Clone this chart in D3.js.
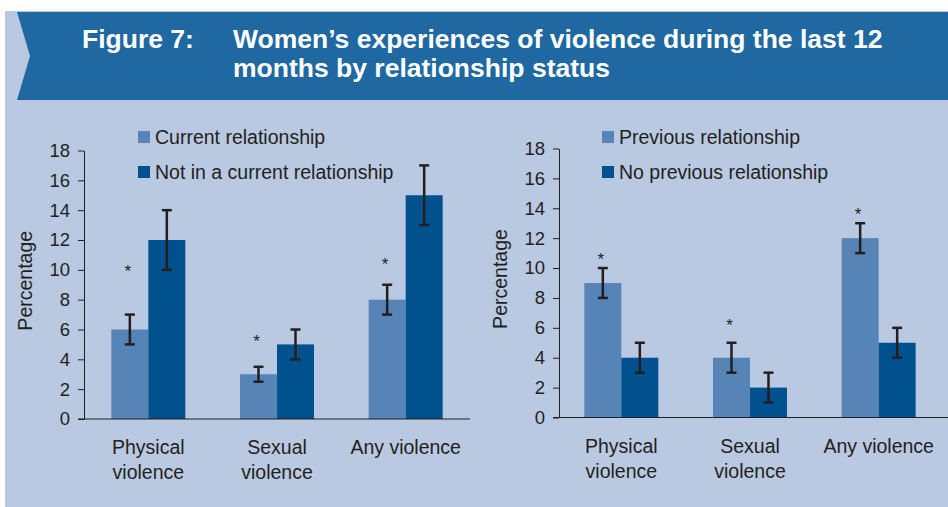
<!DOCTYPE html>
<html>
<head>
<meta charset="utf-8">
<script src="https://cdn.jsdelivr.net/npm/d3@7"></script>
<style>
  body { margin: 0; background: #fff; }
  svg { display: block; font-family: "Liberation Sans", Arial, sans-serif; }
</style>
</head>
<body>
<script>
// ---- data ----
const categories = [["Physical", "violence"], ["Sexual", "violence"], ["Any violence"]];

const leftSeries = ["Current relationship", "Not in a current relationship"];
const currentVals = [6, 3, 8];
const currentLow = [5, 2.5, 7];
const currentHigh = [7, 3.5, 9];
const notCurrentVals = [12, 5, 15];
const notCurrentLow = [10, 4, 13];
const notCurrentHigh = [14, 6, 17];
const leftStars = [10.1, 5.4, 10.6]; // asterisk heights over first series

const rightSeries = ["Previous relationship", "No previous relationship"];
const previousVals = [9, 4, 12];
const previousLow = [8, 3, 11];
const previousHigh = [10, 5, 13];
const noPreviousVals = [4, 2, 5];
const noPreviousLow = [3, 1, 4];
const noPreviousHigh = [5, 3, 6];
const rightStars = [10.8, 6.4, 13.8];

const yTicks = [0, 2, 4, 6, 8, 10, 12, 14, 16, 18];

const width = 948;
const height = 507;
const lightBlue = "#5784b6";
const darkBlue = "#00518e";
const textCol = "#231f20";

let svg = d3.select("body").append("svg")
  .attr("width", width)
  .attr("height", height);

// panel background
svg.append("rect")
  .attr("x", 5).attr("y", 11)
  .attr("width", width - 5).attr("height", height - 11)
  .attr("fill", "#b9c9e1");

// header band with chevron notch
svg.append("path")
  .attr("d", "M17,12 L948,12 L948,100 L17,100 L30,56 Z")
  .attr("fill", "#1f68a1");

let title = svg.append("g")
  .attr("fill", "#fff")
  .attr("font-weight", "bold")
  .attr("font-size", 26.5);
title.append("text").attr("x", 82).attr("y", 48).text("Figure 7:");
title.append("text").attr("x", 233).attr("y", 48).text("Women\u2019s experiences of violence during the last 12");
title.append("text").attr("x", 233).attr("y", 77).text("months by relationship status");

function drawPanel(opts) {
  const y = d3.scaleLinear().domain([0, 18]).range([opts.y0, opts.y18]);
  const x = d3.scaleBand()
    .domain(d3.range(categories.length))
    .range([opts.xStart, opts.xEnd])
    .paddingInner(0.425)
    .paddingOuter(0.2125);
  const xs = d3.scaleBand().domain([0, 1]).range([0, x.bandwidth()]);

  const g = svg.append("g");

  // y axis
  const yAxis = d3.axisLeft(y).tickValues(yTicks).tickSize(6).tickSizeOuter(0).tickPadding(8);
  const ya = g.append("g")
    .attr("transform", `translate(${opts.axisX},0)`)
    .call(yAxis);
  ya.selectAll("text").attr("font-size", 18.5).attr("fill", textCol)
    .attr("font-family", "Liberation Sans, Arial, sans-serif");
  ya.selectAll("line").attr("stroke", textCol);
  ya.select(".domain").attr("stroke", textCol);

  // axis title
  g.append("text")
    .attr("transform", `translate(${opts.labelX},${(opts.y0 + opts.y18) / 2 - 4}) rotate(-90)`)
    .attr("text-anchor", "middle")
    .attr("font-size", 19.5)
    .attr("fill", textCol)
    .text("Percentage");

  // bars
  const series = [opts.a, opts.b];
  const colors = [lightBlue, darkBlue];
  series.forEach((s, si) => {
    g.selectAll(null)
      .data(s.vals)
      .enter()
      .append("rect")
      .attr("x", (d, i) => x(i) + xs(si))
      .attr("y", d => y(d))
      .attr("width", xs.bandwidth())
      .attr("height", d => y(0) - y(d))
      .attr("fill", colors[si]);
  });

  // x axis baseline
  g.append("line")
    .attr("x1", opts.axisX - 6).attr("x2", opts.lineEnd)
    .attr("y1", y(0)).attr("y2", y(0))
    .attr("stroke", textCol).attr("stroke-width", 1);

  // error bars
  series.forEach((s, si) => {
    const eb = g.selectAll(null)
      .data(s.vals.map((v, i) => ({ i, lo: s.lo[i], hi: s.hi[i] })))
      .enter()
      .append("g")
      .attr("stroke", textCol)
      .attr("stroke-width", 2.5);
    const cx = d => x(d.i) + xs(si) + xs.bandwidth() / 2;
    eb.append("line")
      .attr("x1", cx).attr("x2", cx)
      .attr("y1", d => y(d.lo)).attr("y2", d => y(d.hi));
    eb.append("line")
      .attr("x1", d => cx(d) - 5).attr("x2", d => cx(d) + 5)
      .attr("y1", d => y(d.lo)).attr("y2", d => y(d.lo));
    eb.append("line")
      .attr("x1", d => cx(d) - 5).attr("x2", d => cx(d) + 5)
      .attr("y1", d => y(d.hi)).attr("y2", d => y(d.hi));
  });

  // significance asterisks
  g.selectAll(null)
    .data(opts.stars)
    .enter()
    .append("text")
    .attr("x", (d, i) => x(i) + xs(0) + xs.bandwidth() / 2 - 2)
    .attr("y", d => y(d) + 9)
    .attr("text-anchor", "middle")
    .attr("font-size", 17)
    .attr("fill", textCol)
    .text("*");

  // category labels
  categories.forEach((lines, i) => {
    const t = g.append("text")
      .attr("text-anchor", "middle")
      .attr("font-size", 19.5)
      .attr("fill", textCol);
    lines.forEach((ln, li) => {
      t.append("tspan")
        .attr("x", x(i) + x.bandwidth() / 2)
        .attr("y", y(0) + 35 + li * 25)
        .text(ln);
    });
  });

  // legend
  const lg = g.selectAll(null)
    .data(opts.names)
    .enter()
    .append("g")
    .attr("transform", (d, i) => `translate(${opts.legendX},${131 + i * 35})`);
  lg.append("rect")
    .attr("width", 12).attr("height", 12)
    .attr("fill", (d, i) => colors[i]);
  lg.append("text")
    .attr("x", 17).attr("y", 12.5)
    .attr("font-size", 19.5)
    .attr("fill", textCol)
    .text(d => d);
}

drawPanel({
  xStart: 84, xEnd: 470, axisX: 84, lineEnd: 470,
  y0: 419, y18: 150.5, labelX: 32, legendX: 138,
  names: leftSeries,
  a: { vals: currentVals, lo: currentLow, hi: currentHigh },
  b: { vals: notCurrentVals, lo: notCurrentLow, hi: notCurrentHigh },
  stars: leftStars
});

drawPanel({
  xStart: 557, xEnd: 943, axisX: 559, lineEnd: 948,
  y0: 417.5, y18: 148.5, labelX: 507, legendX: 602,
  names: rightSeries,
  a: { vals: previousVals, lo: previousLow, hi: previousHigh },
  b: { vals: noPreviousVals, lo: noPreviousLow, hi: noPreviousHigh },
  stars: rightStars
});
</script>
</body>
</html>
